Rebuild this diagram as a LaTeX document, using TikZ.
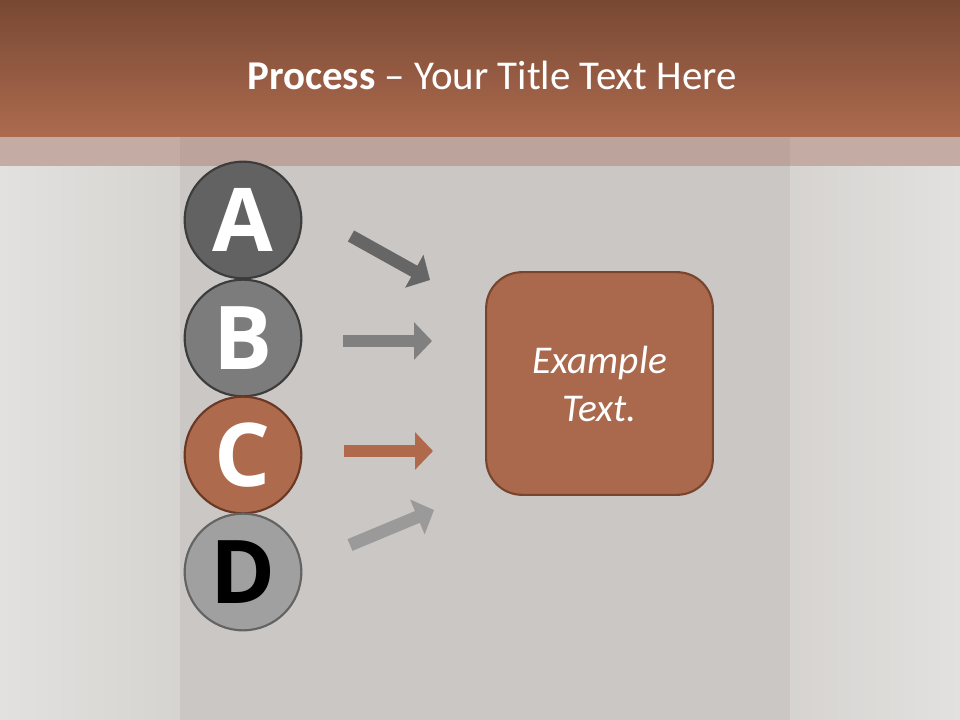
\documentclass[tikz,border=0pt]{standalone}
\usepackage{fontspec}
\setmainfont{Carlito}
\newfontfamily\letterfont{Open Sans}
\usetikzlibrary{arrows.meta}
\definecolor{bgmid}{HTML}{CDCAC7}
\definecolor{bgedge}{HTML}{E3E1DF}
\definecolor{titletop}{HTML}{784833}
\definecolor{titlebot}{HTML}{AD6B4F}
\definecolor{bandc}{HTML}{C4ABA3}
\definecolor{cA}{HTML}{626262}
\definecolor{cB}{HTML}{7C7C7C}
\definecolor{cC}{HTML}{AE6A4C}
\definecolor{cD}{HTML}{A0A0A0}
\definecolor{bordgray}{HTML}{3C3C3C}
\definecolor{bordbrown}{HTML}{6A3825}
\definecolor{arrA}{HTML}{666666}
\definecolor{arrB}{HTML}{808080}
\definecolor{arrC}{HTML}{B0694B}
\definecolor{arrD}{HTML}{9A9A9A}
\definecolor{boxfill}{HTML}{AA694C}
\definecolor{boxbord}{HTML}{7A4530}
\tikzset{
  letter/.style={circle, minimum size=87.5pt, inner sep=0pt, line width=1.6pt,
    font=\letterfont\bfseries\fontsize{66}{66}\selectfont},
  flow/.style={line width=9.5pt, -{Triangle[length=13.5pt,width=27.5pt]}},
  card/.style={rounded corners=27pt, fill=boxfill, draw=boxbord, line width=1.6pt,
    minimum width=170pt, minimum height=167pt, text=white, align=center,
    font=\itshape\fontsize{29.5}{36}\selectfont}
}
\begin{document}
\begin{tikzpicture}[x=0.75pt, y=-0.75pt]
\useasboundingbox (0,0) rectangle (960,720);
% background
\fill[bgmid] (0,0) rectangle (960,720);
\shade[left color=bgedge, right color=bgmid!60!bgedge] (0,137) rectangle (180,720);
\shade[left color=bgmid!60!bgedge, right color=bgedge] (790,137) rectangle (960,720);
\fill[bgmid!97!black, opacity=0.35] (180,166) rectangle (790,720);
% title band
\shade[top color=titletop, bottom color=titlebot] (0,0) rectangle (960,137);
\fill[bandc] (0,137) rectangle (960,166);
\fill[bandc!90!black, opacity=0.4] (180,137) rectangle (790,166);
\node[text=white, font=\fontsize{30.7}{36}\selectfont] (title) at (492,75)
  {\textbf{Process} -- Your Title Text Here};
% circles
\node[letter, fill=cA, draw=bordgray, text=white] (A) at (243,220) {A};
\node[letter, fill=cB, draw=bordgray, text=white] (B) at (243,338) {B};
\node[letter, fill=cC, draw=bordbrown, text=white] (C) at (243,455) {C};
\node[letter, fill=cD, draw=bordgray!80, text=black] (D) at (243,572) {D};
% arrows
\coordinate (a1) at (351,236); \coordinate (a2) at (430,280);
\coordinate (b1) at (343,341); \coordinate (b2) at (432,341);
\coordinate (c1) at (344,451); \coordinate (c2) at (433,451);
\coordinate (d1) at (350,545); \coordinate (d2) at (434,510);
\draw[flow, draw=arrA, fill=arrA] (a1) -- (a2);
\draw[flow, draw=arrB, fill=arrB] (b1) -- (b2);
\draw[flow, draw=arrC, fill=arrC] (c1) -- (c2);
\draw[flow, draw=arrD, fill=arrD] (d1) -- (d2);
% box
\node[card] (box) at (599.5,383.5) {Example\\Text.};
\end{tikzpicture}
\end{document}
